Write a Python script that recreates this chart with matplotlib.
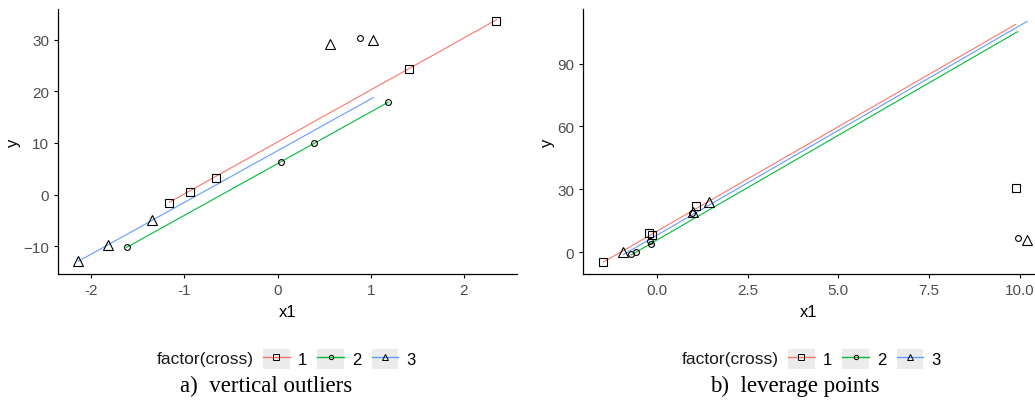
import matplotlib

matplotlib.use("Agg")
import matplotlib.pyplot as plt
import numpy as np
from matplotlib.legend_handler import HandlerLine2D
from matplotlib.lines import Line2D
from matplotlib.patches import Rectangle

# panel a) vertical outliers
a_x = {
    "1": [-1.16, -0.94, -0.66, 1.41, 2.35],
    "2": [-1.62, 0.04, 0.39, 0.88, 1.19],
    "3": [-2.14, -1.82, -1.35, 0.56, 1.03],
}
a_y = {
    "1": [-1.7, 0.6, 3.3, 24.4, 33.6],
    "2": [-10.2, 6.4, 9.9, 30.3, 18.0],
    "3": [-12.8, -9.7, -4.9, 29.1, 30.0],
}
a_intercept = {"1": 10.2, "2": 6.0, "3": 8.5}
a_slope = {"1": 10.05, "2": 10.0, "3": 10.0}

# panel b) leverage points
b_x = {
    "1": [-1.47, -0.20, -0.14, 1.08, 9.89],
    "2": [-0.70, -0.57, -0.18, -0.16, 0.97, 9.94],
    "3": [-0.92, 1.01, 1.45, 10.20],
}
b_y = {
    "1": [-4.5, 9.2, 8.4, 22.0, 30.7],
    "2": [-0.7, 0.3, 5.3, 4.0, 18.8, 6.8],
    "3": [0.2, 19.3, 23.8, 5.7],
}
b_intercept = {"1": 10.0, "2": 5.8, "3": 8.1}
b_slope = {"1": 9.98, "2": 10.0, "3": 10.0}

groups = ["1", "2", "3"]
colors = {"1": "#F8766D", "2": "#00BA38", "3": "#619CFF"}
markers = {"1": "s", "2": "o", "3": "^"}
msizes = {"1": 6.0, "2": 4.2, "3": 6.5}

plt.rcParams["font.family"] = ["Liberation Sans", "DejaVu Sans"]


class KeyHandler(HandlerLine2D):
    # ggplot-style grey key background behind each legend key
    def create_artists(self, legend, orig_handle, xdescent, ydescent,
                       width, height, fontsize, trans):
        arts = super().create_artists(legend, orig_handle, xdescent, ydescent,
                                      width, height, fontsize, trans)
        bg = Rectangle((-xdescent, -ydescent), width, height,
                       facecolor="#EBEBEB", edgecolor="none", transform=trans)
        return [bg] + list(arts)


def draw_panel(ax, xs, ys, icpt, slope, xlim, ylim, xticks, yticks, xfmt):
    for g in groups:
        x = np.asarray(xs[g])
        y = np.asarray(ys[g])
        xr = np.array([x.min(), x.max()])
        ax.plot(xr, icpt[g] + slope[g] * xr, color=colors[g], lw=0.8, zorder=2)
        ax.plot(x, y, linestyle="none", marker=markers[g], ms=msizes[g],
                mfc="none", mec="black", mew=0.8, zorder=3, clip_on=False)
    ax.set_xlim(*xlim)
    ax.set_ylim(*ylim)
    ax.set_xticks(xticks)
    ax.set_xticklabels([xfmt.format(t) for t in xticks])
    ax.set_yticks(yticks)
    for s in ("top", "right"):
        ax.spines[s].set_visible(False)
    for s in ("left", "bottom"):
        ax.spines[s].set_linewidth(0.9)
    ax.tick_params(length=3, width=0.8, labelsize=11, labelcolor="#4D4D4D", pad=3)
    ax.set_xlabel("x1", fontsize=12, labelpad=5)
    ax.set_ylabel("y", fontsize=12, labelpad=2)


fig = plt.figure(figsize=(10.35, 4.10), dpi=100)
ax1 = fig.add_axes([0.0557, 0.3285, 0.4438, 0.647])
ax2 = fig.add_axes([0.563, 0.3285, 0.437, 0.647])

draw_panel(ax1, a_x, a_y, a_intercept, a_slope, (-2.36, 2.57), (-15.4, 35.9),
           [-2, -1, 0, 1, 2], [-10, 0, 10, 20, 30], "{:g}")
draw_panel(ax2, b_x, b_y, b_intercept, b_slope, (-2.04, 10.42), (-10.5, 116),
           [0.0, 2.5, 5.0, 7.5, 10.0], [0, 30, 60, 90], "{:.1f}")

handles = [Line2D([], [], color=colors[g], lw=1.0, marker=markers[g],
                  ms=msizes[g] * 0.75, mfc="none", mec="black", mew=0.7)
           for g in groups]

W = 1035.0
legend_y = 0.122
for center_px in (287.0, 812.0):
    fig.text((center_px - 33) / W, legend_y, "factor(cross)", ha="right",
             va="center", fontsize=12.5, color="#1A1A1A")
    fig.legend(handles, groups, loc="center left",
               bbox_to_anchor=((center_px - 24) / W, legend_y),
               ncol=3, frameon=False, fontsize=12, handlelength=1.6,
               handleheight=1.5, handletextpad=0.5, columnspacing=0.6,
               borderpad=0.0, borderaxespad=0.0,
               handler_map={Line2D: KeyHandler()})

serif = ["Liberation Serif", "DejaVu Serif"]
fig.text(266 / W, 0.057, "a)  vertical outliers", ha="center", va="center",
         fontsize=16.5, family=serif)
fig.text(795 / W, 0.057, "b)  leverage points", ha="center", va="center",
         fontsize=16.5, family=serif)

fig.savefig("out.png", dpi=100)
